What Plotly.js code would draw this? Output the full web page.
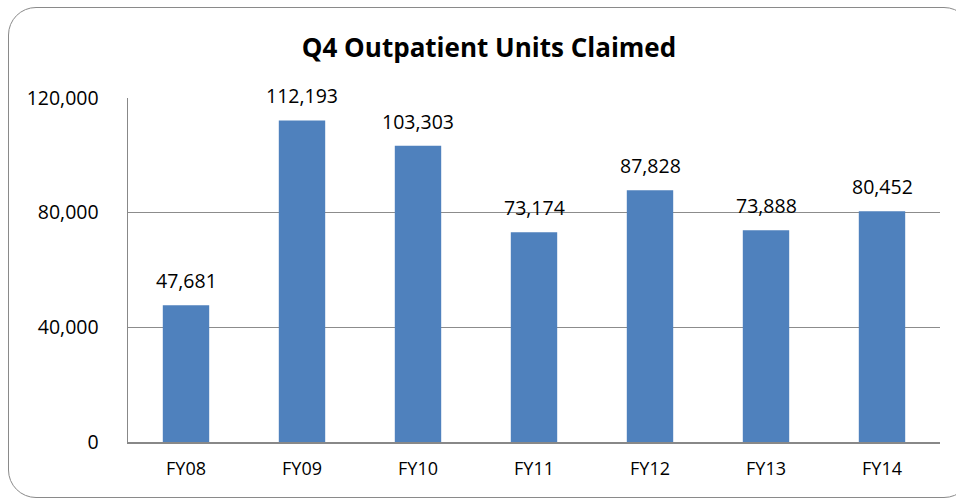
<!DOCTYPE html>
<html>
<head>
<meta charset="utf-8">
<script src="https://cdn.plot.ly/plotly-3.0.1.min.js"></script>
<style>
  html, body { margin: 0; padding: 0; background: #fff; overflow: hidden; }
  #wrap { position: relative; width: 956px; height: 500px; }
  #chart { position: absolute; left: 0; top: 0; width: 956px; height: 500px; }
  #frame { position: absolute; left: 8px; top: 7px; width: 962px; height: 489px;
           border: 1.5px solid #8a8a8a; border-radius: 28px; pointer-events: none; }
</style>
</head>
<body>
<div id="wrap">
  <div id="chart"></div>
  <div id="frame"></div>
</div>
<script>
const categories = ["FY08", "FY09", "FY10", "FY11", "FY12", "FY13", "FY14"];
const unitsClaimed = [47681, 112193, 103303, 73174, 87828, 73888, 80452];
const yTickValues = [0, 40000, 80000, 120000];
const yTickLabels = ["0", "40,000", "80,000", "120,000"];
const chartTitle = "Q4 Outpatient Units Claimed";

const fmt = v => v.toLocaleString("en-US");
const FONT = "Open Sans, Liberation Sans, sans-serif";

const trace = {
  type: "bar",
  x: categories,
  y: unitsClaimed,
  marker: { color: "#4F81BD", line: { width: 0 } },
  hoverinfo: "none"
};

const annotations = categories.map((c, i) => ({
  x: c, y: unitsClaimed[i], xref: "x", yref: "y",
  text: fmt(unitsClaimed[i]), showarrow: false,
  yanchor: "bottom", yshift: 9,
  font: { family: FONT, size: 19.5, color: "#000" }
}));

const layout = {
  width: 956, height: 500,
  margin: { l: 128, r: 16, t: 98, b: 58 },
  paper_bgcolor: "#fff", plot_bgcolor: "#fff",
  showlegend: false,
  bargap: 0.6,
  title: {
    text: "<b>" + chartTitle + "</b>",
    font: { family: FONT, size: 26, color: "#000" },
    x: 0.5115, xref: "container", xanchor: "center",
    y: 0.905, yref: "container", yanchor: "middle"
  },
  xaxis: {
    type: "category",
    showline: true, linecolor: "#888", linewidth: 1.5,
    showgrid: false, ticks: "",
    tickfont: { family: FONT, size: 18, color: "#000" },
    ticklabelstandoff: 10,
    fixedrange: true
  },
  yaxis: {
    range: [0, 120000],
    tickvals: yTickValues, ticktext: yTickLabels,
    showline: true, linecolor: "#888", linewidth: 1.5,
    showgrid: true, gridcolor: "#8c8c8c", gridwidth: 1.2,
    zeroline: false, ticks: "",
    tickfont: { family: FONT, size: 19.5, color: "#000" },
    ticklabelstandoff: 24,
    fixedrange: true
  },
  annotations: annotations
};

Plotly.newPlot("chart", [trace], layout, { displayModeBar: false, staticPlot: true });
</script>
</body>
</html>
